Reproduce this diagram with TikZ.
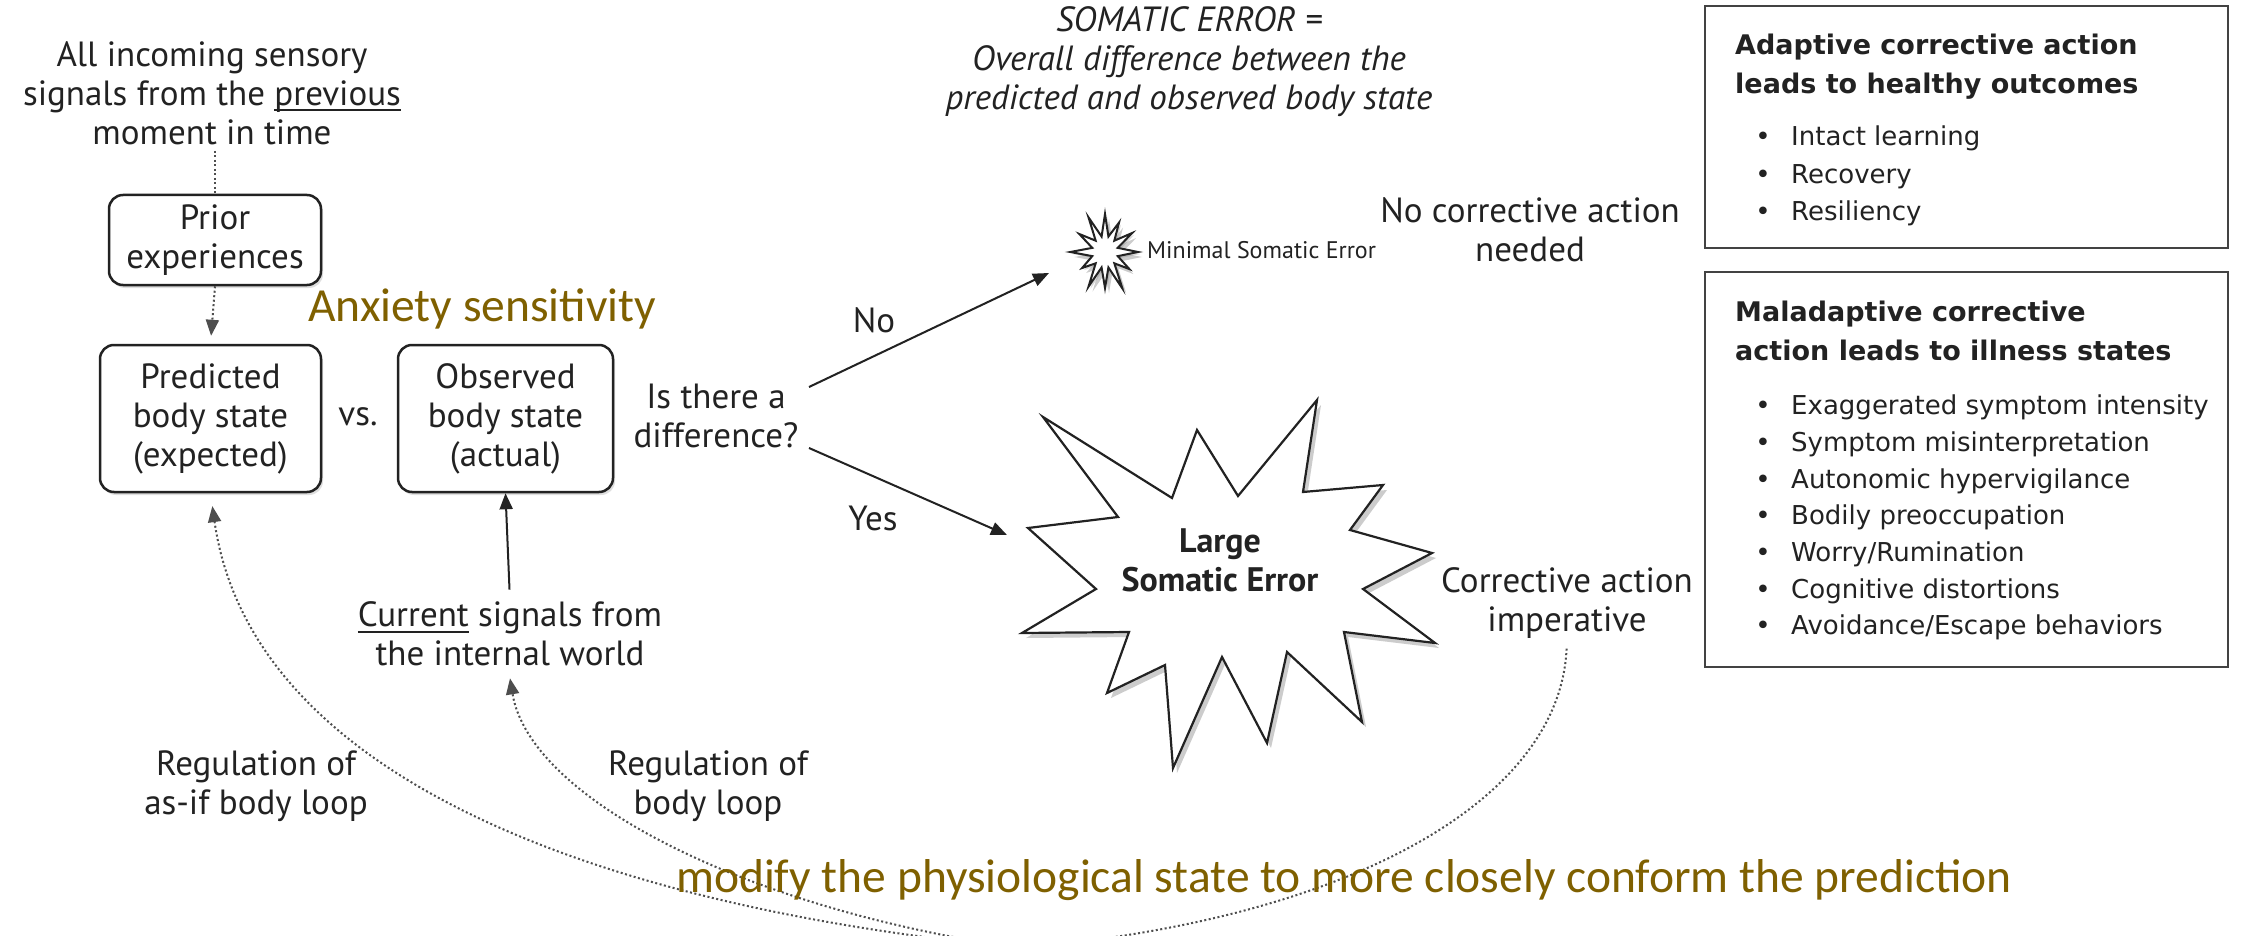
\documentclass[tikz,border=0pt]{standalone}
\usepackage{fontspec}
\setmainfont{PT Sans}
\newfontfamily\boxfont{DejaVu Sans}
\newfontfamily\calfont{Carlito}
\usetikzlibrary{arrows.meta,shadows}
\definecolor{olivetxt}{HTML}{7F6000}
\definecolor{ink}{HTML}{222222}
\newcommand\myul[1]{\setbox0\hbox{#1}\rlap{\rule[-6pt]{\wd0}{2pt}}\box0\relax}
\begin{document}
\begin{tikzpicture}[x=1pt,y=-1pt,
  every node/.style={text=ink},
  main/.style={font=\fontsize{35}{39}\selectfont, align=center, inner sep=0pt},
  mainit/.style={font=\fontsize{35}{39}\selectfont\itshape, align=center, inner sep=0pt},
  colortxt/.style={font=\calfont\fontsize{47.5}{52}\selectfont, text=olivetxt, inner sep=0pt},
  rbox/.style={draw=ink, line width=2.5pt, rounded corners=14pt, fill=white,
    drop shadow={opacity=0.25, shadow xshift=2pt, shadow yshift=-3pt}},
  sqbox/.style={draw=ink!85, line width=2pt, inner sep=0pt},
  hdr/.style={font=\boxfont\bfseries\fontsize{27}{30}\selectfont, anchor=base west, inner sep=0pt},
  itm/.style={font=\boxfont\fontsize{26}{30}\selectfont, anchor=base west, inner sep=0pt},
  bul/.style={font=\boxfont\fontsize{26}{30}\selectfont, anchor=base, inner sep=0pt},
  arr/.style={-{Triangle[length=16pt,width=13pt]}, line width=2pt, draw=ink},
  dotline/.style={line width=2pt, draw=ink!80, dash pattern=on 2pt off 2.5pt},
  dotarr/.style={dotline, -{Triangle[length=16pt,width=13pt]}},
  starline/.style={draw=ink, line width=2.2pt, fill=white, line join=miter,
    drop shadow={opacity=0.4, shadow xshift=4pt, shadow yshift=-5pt}}
]
\useasboundingbox (0,0) rectangle (2242,936);
\fill[white] (0,0) rectangle (2242,936);
\clip (0,0) rectangle (2242,936);

% ---- left column ----
\node[main] (incoming) at (212,93) {All incoming sensory\\signals from the \myul{previous}\\moment in time};
\node[rbox, main, minimum width=212pt, minimum height=90pt] (prior) at (215,240) {Prior\\experiences};
\node[rbox, main, minimum width=221pt, minimum height=147pt] (pred) at (210.5,418.5) {Predicted\\body state\\(expected)};
\node[rbox, main, minimum width=215pt, minimum height=147pt] (obs) at (505.5,418.5) {Observed\\body state\\(actual)};
\node[main] (vs) at (358,417) {vs.};
\node[colortxt] (anx) at (482,309) {Anxiety sensitivity};

\draw[dotline, shorten <=6pt] (incoming.south -| prior.north) -- (prior.north);
\draw[dotarr, shorten >=8pt] (prior.south) -- (pred.north);

% ---- question and branches ----
\node[main] (q) at (716,416) {Is there a\\difference?};
\node[main] (no) at (874,320) {No};
\node[main] (yes) at (873,518) {Yes};
\coordinate (noS) at (809,387);
\coordinate (noE) at (1049,273);
\coordinate (yesS) at (809,448);
\coordinate (yesE) at (1007,535);
\draw[arr] (noS) -- (noE);
\draw[arr] (yesS) -- (yesE);

% ---- top text ----
\node[mainit] (som) at (1189,62) {SOMATIC ERROR =\\Overall difference between the\\predicted and observed body state};

% ---- small star ----
\begin{scope}[shift={(1105,252)}, x=33pt, y=-40pt]
\draw[starline, line width=2pt, drop shadow={opacity=0.3, shadow xshift=2pt, shadow yshift=-2pt}]
  (0:1) -- (15:0.4) -- (30:0.85) -- (45:0.4) -- (60:1.05) -- (75:0.4) -- (90:0.9) -- (105:0.4)
  -- (120:1.0) -- (135:0.4) -- (150:0.8) -- (165:0.4) -- (180:1.05) -- (195:0.4) -- (210:0.9)
  -- (225:0.4) -- (240:1.0) -- (255:0.4) -- (270:0.95) -- (285:0.4) -- (300:0.85) -- (315:0.4)
  -- (330:0.95) -- (345:0.4) -- cycle;
\end{scope}
\node[font=\fontsize{24}{28}\selectfont, anchor=west, inner sep=0pt] (minimal) at (1147,250) {Minimal Somatic Error};
\node[main] (nocorr) at (1530,230) {No corrective action\\needed};

% ---- large star ----
\draw[starline] (1043,417) -- (1172,498) -- (1197,430) -- (1238,496) -- (1317,400) -- (1303,492)
  -- (1383,485) -- (1350,530) -- (1432,553) -- (1363,589) -- (1435,643) -- (1344,632)
  -- (1362,722) -- (1287,652) -- (1267,743) -- (1222,657) -- (1173,768) -- (1165,665)
  -- (1107,693) -- (1129,632) -- (1022,633) -- (1096,589) -- (1028,528) -- (1118,517) -- cycle;
\node[main, font=\bfseries\fontsize{34}{39}\selectfont] (large) at (1220,560) {Large\\Somatic Error};
\node[main] (corr) at (1567,603) {Corrective action\\imperative};

% ---- lower left ----
\node[main] (cur) at (510,634) {\myul{Current} signals from\\the internal world};
\draw[arr, shorten <=12pt] (cur.north) -- (obs.south);
\node[main] (regA) at (256,786) {Regulation of\\as-if body loop};
\node[main] (regB) at (708,786) {Regulation of\\body loop};

% ---- regulation curves ----
\coordinate (conv) at (1020,948);
\draw[dotarr, shorten >=13pt] (conv) .. controls (580,905) and (250,770) .. (pred.south);
\draw[dotarr] (conv) .. controls (750,910) and (530,800) .. ([yshift=-12pt]cur.south);
\draw[dotline, shorten <=10pt] (corr.south) .. controls (1560,800) and (1350,920) .. (conv);

\node[colortxt] (modify) at (1344,880) {modify the physiological state to more closely conform the prediction};

% ---- right boxes ----
\node[sqbox, minimum width=523pt, minimum height=242pt] (box1) at (1966.5,127) {};
\node[hdr] (h1a) at (1735,55) {Adaptive corrective action};
\node[hdr] (h1b) at (1735,94) {leads to healthy outcomes};
\node[bul] (b1a) at (1763,146) {\textbullet};
\node[itm] (i1a) at (1791,146) {Intact learning};
\node[bul] (b1b) at (1763,183) {\textbullet};
\node[itm] (i1b) at (1791,183) {Recovery};
\node[bul] (b1c) at (1763,220) {\textbullet};
\node[itm] (i1c) at (1791,220) {Resiliency};

\node[sqbox, minimum width=523pt, minimum height=395pt] (box2) at (1966.5,469.5) {};
\node[hdr] (h2a) at (1735,321) {Maladaptive corrective};
\node[hdr] (h2b) at (1735,360) {action leads to illness states};
\node[bul] (b2a) at (1763,414) {\textbullet};
\node[itm] (i2a) at (1791,414) {Exaggerated symptom intensity};
\node[bul] (b2b) at (1763,451) {\textbullet};
\node[itm] (i2b) at (1791,451) {Symptom misinterpretation};
\node[bul] (b2c) at (1763,488) {\textbullet};
\node[itm] (i2c) at (1791,488) {Autonomic hypervigilance};
\node[bul] (b2d) at (1763,524) {\textbullet};
\node[itm] (i2d) at (1791,524) {Bodily preoccupation};
\node[bul] (b2e) at (1763,561) {\textbullet};
\node[itm] (i2e) at (1791,561) {Worry/Rumination};
\node[bul] (b2f) at (1763,598) {\textbullet};
\node[itm] (i2f) at (1791,598) {Cognitive distortions};
\node[bul] (b2g) at (1763,634) {\textbullet};
\node[itm] (i2g) at (1791,634) {Avoidance/Escape behaviors};
\end{tikzpicture}
\end{document}
